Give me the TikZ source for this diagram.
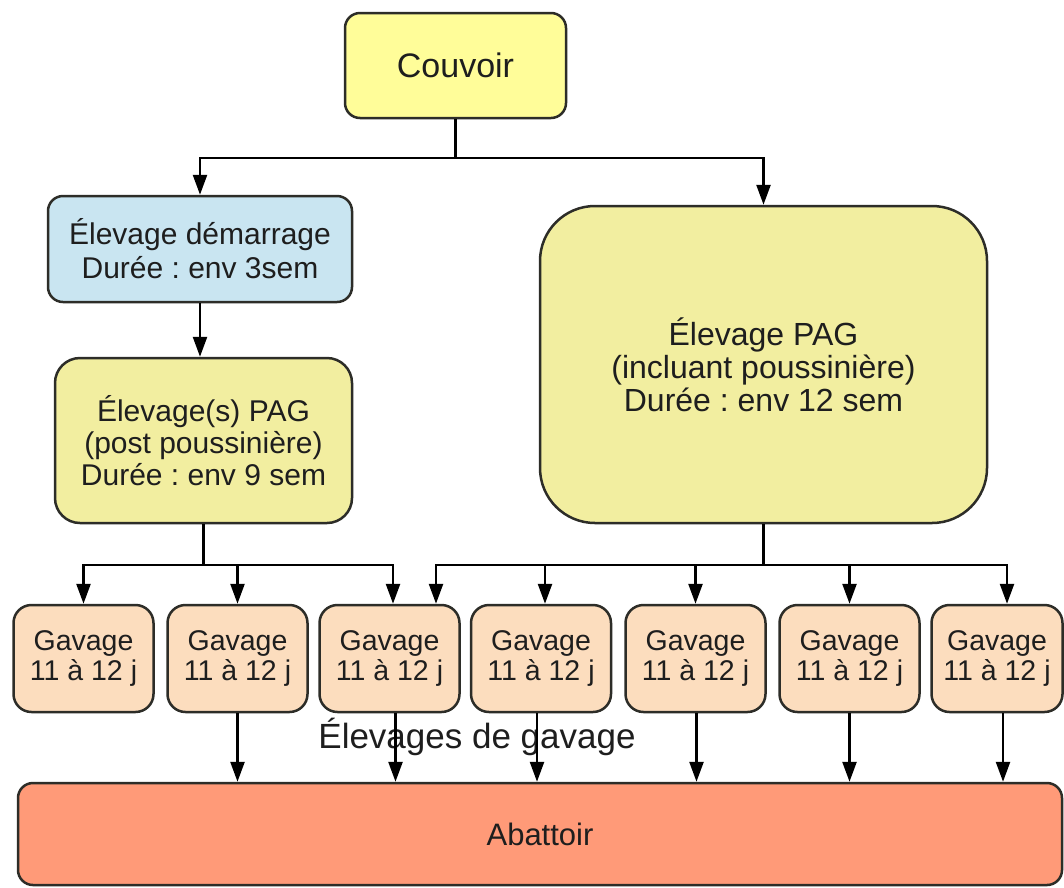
\documentclass[tikz,border=0pt]{standalone}
\usepackage{fontspec}
\setmainfont{Liberation Sans}
\usetikzlibrary{arrows.meta}
\frenchspacing
\definecolor{couvfill}{RGB}{255,253,153}
\definecolor{demfill}{RGB}{201,229,241}
\definecolor{pagfill}{RGB}{242,238,160}
\definecolor{gavfill}{RGB}{252,221,190}
\definecolor{abatfill}{RGB}{255,154,120}
\definecolor{boxline}{RGB}{45,45,40}
\definecolor{txt}{RGB}{30,30,30}
\begin{document}
\begin{tikzpicture}[x=1pt,y=-1pt,
  box/.style={draw=boxline, line width=2.5pt, rounded corners=15pt, align=center, inner sep=0pt, text=txt},
  arr/.style={line width=2.5pt, -{Triangle[width=14pt,length=20pt]}},
  ln/.style={line width=2.5pt},
  gav/.style={box, fill=gavfill, minimum width=140pt, minimum height=107pt, rounded corners=18pt, font=\fontsize{28.5}{30}\selectfont}]
\useasboundingbox (0,0) rectangle (1064,887);
\fill[white] (0,0) rectangle (1064,887);

% nodes
\node[box, fill=couvfill, minimum width=221pt, minimum height=105pt, font=\fontsize{34}{38}\selectfont] (couv) at (455.5,65.5) {Couvoir};
\node[box, fill=demfill, minimum width=304pt, minimum height=106pt, font=\fontsize{30}{34}\selectfont] (dem) at (200,249) {Élevage démarrage\\Durée : env 3sem};
\node[box, fill=pagfill, minimum width=297pt, minimum height=165pt, rounded corners=25pt, font=\fontsize{30}{32}\selectfont] (pag) at (203.5,440.5) {Élevage(s) PAG\\(post poussinière)\\Durée : env 9 sem};
\node[box, fill=pagfill, minimum width=447pt, minimum height=317pt, rounded corners=55pt, font=\fontsize{32}{33}\selectfont] (big) at (763.5,364.5) {Élevage PAG\\(incluant poussinière)\\Durée : env 12 sem};

\node[gav] (g1) at (83.5,658.5) {Gavage\\11 à 12 j};
\node[gav] (g2) at (237.5,658.5) {Gavage\\11 à 12 j};
\node[gav] (g3) at (389.5,658.5) {Gavage\\11 à 12 j};
\node[gav] (g4) at (541,658.5) {Gavage\\11 à 12 j};
\node[gav] (g5) at (695.5,658.5) {Gavage\\11 à 12 j};
\node[gav] (g6) at (849.5,658.5) {Gavage\\11 à 12 j};
\node[gav, minimum width=131pt] (g7) at (997,658.5) {Gavage\\11 à 12 j};

\node[box, fill=abatfill, minimum width=1044pt, minimum height=102pt, font=\fontsize{31}{34}\selectfont] (abat) at (540,834) {Abattoir};

\node[text=txt, inner sep=0pt, font=\fontsize{35}{38}\selectfont] (lab) at (477,737) {Élevages de gavage};

% top connectors
\coordinate (t1) at (455.5,158);
\draw[ln] (couv.south) -- (t1);
\draw[arr] (t1) -| (dem.north);
\draw[arr] (t1) -| (big.north);
\draw[arr] (dem.south) -- (dem.south |- pag.north);

% left bus
\coordinate (lb) at (203.5,565);
\coordinate (lb3) at (393,565);
\draw[ln] (pag.south) -- (lb);
\draw[arr] (lb) -| (g1.north);
\draw[arr] (lb) -| (g2.north);
\draw[arr] (lb) -- (lb3) -- (lb3 |- g3.north);

% right bus
\coordinate (rb) at (763.5,565);
\coordinate (rb3) at (436,565);
\coordinate (rb4) at (545,565);
\coordinate (rb7) at (1007,565);
\draw[ln] (big.south) -- (rb);
\draw[arr] (rb) -- (rb3) -- (rb3 |- g3.north);
\draw[arr] (rb4) -- (rb4 |- g4.north);
\draw[arr] (rb) -| (g5.north);
\draw[arr] (rb) -| (g6.north);
\draw[arr] (rb) -- (rb7) -- (rb7 |- g7.north);

% to abattoir
\draw[arr] (g2.south) -- (g2.south |- abat.north);
\draw[arr] ([xshift=6pt]g3.south) -- ([xshift=6pt]g3.south |- abat.north);
\draw[arr] ([xshift=-4pt]g4.south) -- ([xshift=-4pt]g4.south |- abat.north);
\draw[arr] ([xshift=1pt]g5.south) -- ([xshift=1pt]g5.south |- abat.north);
\draw[arr] (g6.south) -- (g6.south |- abat.north);
\draw[arr] ([xshift=6pt]g7.south) -- ([xshift=6pt]g7.south |- abat.north);
\end{tikzpicture}
\end{document}
